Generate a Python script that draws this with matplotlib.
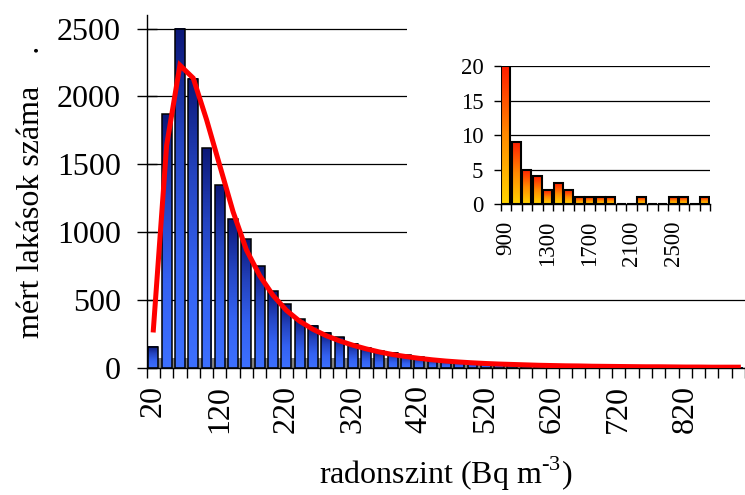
import numpy as np
import matplotlib
matplotlib.use("Agg")
import matplotlib.pyplot as plt
from matplotlib.colors import LinearSegmentedColormap
from matplotlib.patches import Rectangle

plt.rcParams["font.family"] = "Liberation Serif"
plt.rcParams["mathtext.fontset"] = "custom"
plt.rcParams["mathtext.rm"] = "Liberation Serif"

# radon level bins (Bq m-3), 20-wide, and number of dwellings per bin
radon_bins = list(range(20, 901, 20))
dwellings = [155, 1870, 2500, 2130, 1620, 1345, 1095, 950, 750, 565,
             470, 360, 310, 258, 226, 180, 150, 125, 112, 92,
             78, 66, 57, 45, 38, 32, 27, 22, 18, 15,
             13, 11, 9, 8, 7, 6, 5, 4, 4, 3,
             3, 2, 2, 2, 1]
# fitted distribution evaluated at each bin
fitted = [280, 1640, 2230, 2135, 1830, 1490, 1150, 870, 680, 535,
          425, 345, 285, 238, 200, 168, 141, 118, 99, 84,
          71, 60, 51, 44, 38, 33, 29, 26, 23, 20,
          18, 16, 15, 13, 12, 11, 10, 9, 9, 8,
          7, 7, 6, 6, 6]
main_labels = ["20", "120", "220", "320", "420", "520", "620", "720", "820"]

# high-level tail, 100-wide bins
tail_bins = list(range(900, 2801, 100))
tail_counts = [20, 9, 5, 4, 2, 3, 2, 1, 1, 1, 1, 0, 0, 1, 0, 0, 1, 1, 0, 1]
tail_labels = ["900", "1300", "1700", "2100", "2500"]

blue_cmap = LinearSegmentedColormap.from_list(
    "blue", ["#3d70ff", "#3462f2", "#2444c0", "#0c1878"])
fire_cmap = LinearSegmentedColormap.from_list("fire", ["#ffd400", "#ff8a00", "#ff1e00"])
grad = np.linspace(1, 0, 200).reshape(-1, 1)


def gradient_bars(ax, xs, heights, width, cmap, edge_lw):
    for x, h in zip(xs, heights):
        if h <= 0:
            continue
        ax.imshow(grad, cmap=cmap, aspect="auto", interpolation="bilinear",
                  extent=[x - width / 2, x + width / 2, 0, h], zorder=2)
    ax.bar(xs, heights, width=width, fill=False, edgecolor="black",
           linewidth=edge_lw, zorder=3)


fig = plt.figure(figsize=(7.45, 4.95), dpi=100)

# main histogram
ax = fig.add_axes([0.1969, 0.2566, 0.8031, 0.7131], zorder=0)
xs = np.arange(len(radon_bins))
ax.bar(xs, np.minimum(dwellings, 70), width=1.0, color="#808080", zorder=1.5)
gradient_bars(ax, xs, dwellings, 0.74, blue_cmap, 1.1)
ax.plot(xs, fitted, color="#ff0000", lw=3.6, zorder=4, solid_joinstyle="miter")

ax.set_xlim(-0.5, 43.95)
ax.set_ylim(0, 2600)
for side in ["top", "right"]:
    ax.spines[side].set_visible(False)
for side in ["left", "bottom"]:
    ax.spines[side].set_linewidth(1.0)

ax.set_yticks(range(0, 2501, 500))
ax.tick_params(axis="y", direction="inout", length=15, width=1, pad=11, labelsize=23)
ax.yaxis.grid(True, color="black", lw=0.9)
ax.set_axisbelow(True)

ax.set_xticks(np.arange(-0.5, len(radon_bins), 1))
ax.set_xticklabels([])
ax.tick_params(axis="x", which="major", direction="out", length=7, width=1)
ax.set_xticks([radon_bins.index(int(s)) for s in main_labels], minor=True)
ax.set_xticklabels(main_labels, minor=True, rotation=90)
ax.tick_params(axis="x", which="minor", length=0, pad=12, labelsize=23)

ax.set_ylabel("mért lakások száma    .", fontsize=23)
ax.yaxis.set_label_coords(-0.168, 0.5)
ax.set_xlabel("radonszint (Bq m$^{\\mathregular{\u20103}}$)", fontsize=23)
ax.xaxis.set_label_coords(0.5, -0.245)

# white backing behind the inset
fig.patches.append(Rectangle((0.5463, 0.41), 0.46, 0.6, transform=fig.transFigure,
                             facecolor="white", edgecolor="none", zorder=1))

# inset with the high values
axi = fig.add_axes([0.6721, 0.5879, 0.2809, 0.2788], zorder=2)
axi.patch.set_alpha(0)
txs = np.arange(len(tail_bins))
gradient_bars(axi, txs, tail_counts, 0.86, fire_cmap, 1.5)
axi.set_xlim(-0.5, len(tail_bins) - 0.5)
axi.set_ylim(0, 20.05)
for side in ["top", "right", "left"]:
    axi.spines[side].set_visible(False)
axi.spines["bottom"].set_linewidth(1.0)
axi.set_yticks([0, 5, 10, 15, 20])
axi.tick_params(axis="y", direction="out", length=5, width=1, pad=7.5, labelsize=16.5)
axi.yaxis.grid(True, color="black", lw=0.9)
axi.set_axisbelow(True)
axi.set_xticks(np.arange(-0.5, len(tail_bins), 1))
axi.set_xticklabels([])
axi.tick_params(axis="x", which="major", direction="out", length=5, width=1)
axi.set_xticks([tail_bins.index(int(s)) for s in tail_labels], minor=True)
axi.set_xticklabels(tail_labels, minor=True, rotation=90)
axi.tick_params(axis="x", which="minor", length=0, pad=12, labelsize=16.5)

fig.savefig("out.png", dpi=100)
